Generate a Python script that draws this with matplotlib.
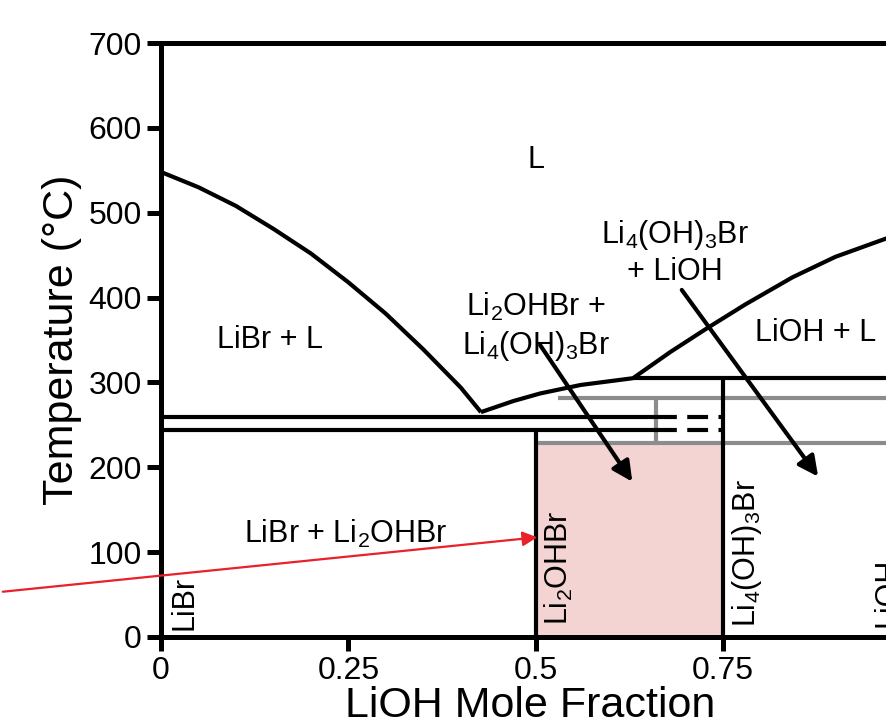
import numpy as np
import matplotlib.pyplot as plt
from matplotlib.patches import FancyArrowPatch

plt.rcParams["font.family"] = ["Liberation Sans", "DejaVu Sans"]
plt.rcParams["mathtext.fontset"] = "custom"
plt.rcParams["mathtext.rm"] = "Liberation Sans"

# liquidus curves (LiOH mole fraction, temperature in C)
libr_liq_x = [0.0, 0.05, 0.1, 0.15, 0.2, 0.25, 0.3, 0.35, 0.4, 0.427]
libr_liq_t = [548, 530, 508, 481, 452, 418, 381, 339, 294, 265]

mid_liq_x = [0.427, 0.47, 0.506, 0.56, 0.63]
mid_liq_t = [265, 278, 287, 297, 305]

lioh_liq_x = [0.63, 0.68, 0.729, 0.78, 0.843, 0.90, 0.969, 1.0]
lioh_liq_t = [305, 336, 364, 392, 424, 448, 470, 479]

# invariant temperatures
t_upper_eut = 259
t_lower_eut = 244
t_peritectic = 305
t_gray_high = 282
t_gray_low = 229

x_dash_start = 0.66
x_li2ohbr = 0.5
x_li4oh3br = 0.75

yticks = [0, 100, 200, 300, 400, 500, 600, 700]
xticks = [0, 0.25, 0.5, 0.75]
xtick_labels = ["0", "0.25", "0.5", "0.75"]

# the slide is cut off at the top; draw on a taller canvas and crop the extra rows
W, H, TOP = 887, 725, 80


def fig_xy(px, py):
    # pixel position in the final picture -> figure fraction of the taller canvas
    return px / W, 1 - (py + TOP) / (H + TOP)


fig = plt.figure(figsize=(W / 100, (H + TOP) / 100), dpi=100)
ax = fig.add_axes([161 / W, fig_xy(0, 637)[1], 749.3 / W, 594 / (H + TOP)])
ax.set_xlim(0, 1)
ax.set_ylim(0, 700)

black = dict(color="black", lw=3, solid_capstyle="butt", solid_joinstyle="round", zorder=3)
gray = dict(color="#8c8c8c", lw=3, solid_capstyle="butt", zorder=2)

# pink single-phase field
ax.fill_between([x_li2ohbr, x_li4oh3br], 0, t_gray_low, color="#f4d3d3", lw=0, zorder=1)

ax.plot(libr_liq_x, libr_liq_t, **black)
ax.plot(mid_liq_x, mid_liq_t, **black)
ax.plot(lioh_liq_x, lioh_liq_t, **black)

# horizontal lines
ax.plot([0, x_dash_start], [t_upper_eut] * 2, **black)
ax.plot([0, x_dash_start], [t_lower_eut] * 2, **black)
ax.plot([x_dash_start, x_li4oh3br], [t_upper_eut] * 2, color="black", lw=3,
        dashes=(5, 2.5), dash_capstyle="butt", zorder=3)
ax.plot([x_dash_start, x_li4oh3br], [t_lower_eut] * 2, color="black", lw=3,
        dashes=(5, 2.5), dash_capstyle="butt", zorder=3)
ax.plot([0.63, 1.0], [t_peritectic] * 2, **black)

ax.plot([0.53, 1.0], [t_gray_high] * 2, **gray)
ax.plot([x_li2ohbr, 1.0], [t_gray_low] * 2, **gray)
ax.plot([x_dash_start] * 2, [t_gray_low, t_gray_high], **gray)

# compound lines
ax.plot([x_li2ohbr] * 2, [0, t_lower_eut], **black)
ax.plot([x_li4oh3br] * 2, [0, t_peritectic], **black)

fs = 22
ax.text(0.5, 562, "L", fontsize=fs, ha="center", va="center")
ax.text(0.145, 350, "LiBr + L", fontsize=fs, ha="center", va="center")
ax.text(0.5, 365, "Li$\\mathregular{_2}$OHBr +\nLi$\\mathregular{_4}$(OH)$\\mathregular{_3}$Br",
        fontsize=fs, ha="center", va="center", linespacing=1.25)
ax.text(0.686, 453, "Li$\\mathregular{_4}$(OH)$\\mathregular{_3}$Br\n+ LiOH",
        fontsize=fs, ha="center", va="center", linespacing=1.25)
ax.text(0.873, 358, "LiOH + L", fontsize=fs, ha="center", va="center")
ax.text(0.247, 122, "LiBr + Li$\\mathregular{_2}$OHBr", fontsize=fs, ha="center", va="center")

ax.text(0.012, 8, "LiBr", fontsize=fs, rotation=90, ha="left", va="bottom")
ax.text(0.51, 14, "Li$\\mathregular{_2}$OHBr", fontsize=fs, rotation=90, ha="left", va="bottom")
ax.text(0.76, 12, "Li$\\mathregular{_4}$(OH)$\\mathregular{_3}$Br", fontsize=fs, rotation=90,
        ha="left", va="bottom")
ax.text(0.95, 12, "LiOH", fontsize=fs, rotation=90, ha="left", va="bottom", clip_on=True)

arrow = dict(arrowstyle="-|>", color="black", lw=3, mutation_scale=30, shrinkA=0, shrinkB=0)
ax.annotate("", xy=(0.629, 183), xytext=(0.506, 344), arrowprops=arrow, zorder=4)
ax.annotate("", xy=(0.877, 189), xytext=(0.695, 409), arrowprops=arrow, zorder=4)

for side in ["top", "left", "bottom"]:
    ax.spines[side].set_linewidth(3.6)
ax.spines["right"].set_visible(False)

ax.set_yticks(yticks)
ax.set_xticks(xticks)
ax.set_xticklabels(xtick_labels)
ax.tick_params(direction="out", length=10, width=3.6, labelsize=23, pad=4)
ax.set_xlabel("LiOH Mole Fraction", fontsize=31)
ax.set_ylabel("Temperature (°C)", fontsize=31)
ax.xaxis.set_label_coords(0.492, -0.082)
ax.yaxis.set_label_coords(-0.106, 0.5)

# red annotation on the slide: only the bottom of the caption survives the crop
fig.text(*fig_xy(232, -27), "(quenching)", color="#e8212a", fontsize=34,
         ha="right", va="baseline")
fig.add_artist(FancyArrowPatch(
    fig_xy(0, 592), fig_xy(540, 537), transform=fig.transFigure,
    arrowstyle="-|>", color="#e8212a", lw=1.6, mutation_scale=22, zorder=10))

fig.canvas.draw()
img = np.asarray(fig.canvas.buffer_rgba())[TOP:TOP + H, :W]
plt.imsave("out.png", img)
